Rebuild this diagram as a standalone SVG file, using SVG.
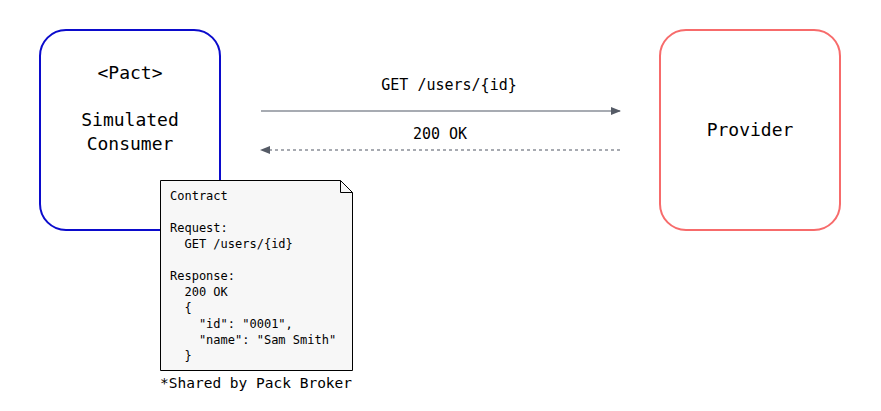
<svg xmlns="http://www.w3.org/2000/svg" width="881" height="411" viewBox="0 0 881 411">
<style>
text{font-family:"DejaVu Sans Mono","Liberation Mono",monospace;fill:#000}
.big{font-size:18px;text-anchor:middle}
.lbl{font-size:15px;text-anchor:middle}
.note{font-size:12px}
.foot{font-size:14.5px}
.conn{stroke:#8a8f98;stroke-width:1.3;fill:none}
</style>
<defs>
<marker id="ah" viewBox="0 0 10 10" refX="9" refY="5" markerWidth="10" markerHeight="10" markerUnits="userSpaceOnUse" orient="auto">
<path d="M0,1 L10,5 L0,9 z" fill="#555b66"/>
</marker>
</defs>
<rect width="881" height="411" fill="#fff"/>
<g id="consumer">
<rect x="40" y="30" width="180" height="200" rx="26" fill="#fff" stroke="#0b0bcc" stroke-width="2"/>
<text class="big" x="130" y="79">&lt;Pact&gt;</text>
<text class="big" x="130" y="126">Simulated</text>
<text class="big" x="130" y="150">Consumer</text>
</g>
<g id="provider">
<rect x="660" y="30" width="180" height="200" rx="26" fill="#fff" stroke="#f76b6b" stroke-width="2"/>
<text class="big" x="750" y="136">Provider</text>
</g>
<g id="connectors">
<line class="conn" x1="261" y1="111" x2="620" y2="111" marker-end="url(#ah)"/>
<line class="conn" x1="620" y1="150" x2="261" y2="150" stroke-dasharray="3,3" marker-end="url(#ah)"/>
<text class="lbl" x="449" y="90">GET /users/{id}</text>
<text class="lbl" x="440" y="139">200 OK</text>
</g>
<g id="contract">
<path d="M160.5,180.5 H340.5 L352.5,192.5 V370.5 H160.5 Z" fill="#f7f7f7" stroke="#000" stroke-width="1"/>
<path d="M340.5,180.5 V192.5 H352.5" fill="none" stroke="#000" stroke-width="1"/>
<text class="note" x="170" y="200">Contract</text>
<text class="note" x="170" y="232">Request:</text>
<text class="note" x="170" y="248" xml:space="preserve">  GET /users/{id}</text>
<text class="note" x="170" y="280">Response:</text>
<text class="note" x="170" y="296" xml:space="preserve">  200 OK</text>
<text class="note" x="170" y="312" xml:space="preserve">  {</text>
<text class="note" x="170" y="328" xml:space="preserve">    "id": "0001",</text>
<text class="note" x="170" y="344" xml:space="preserve">    "name": "Sam Smith"</text>
<text class="note" x="170" y="360" xml:space="preserve">  }</text>
</g>
<g id="footnote">
<text class="foot" x="160" y="388">*Shared by Pack Broker</text>
</g>
</svg>
